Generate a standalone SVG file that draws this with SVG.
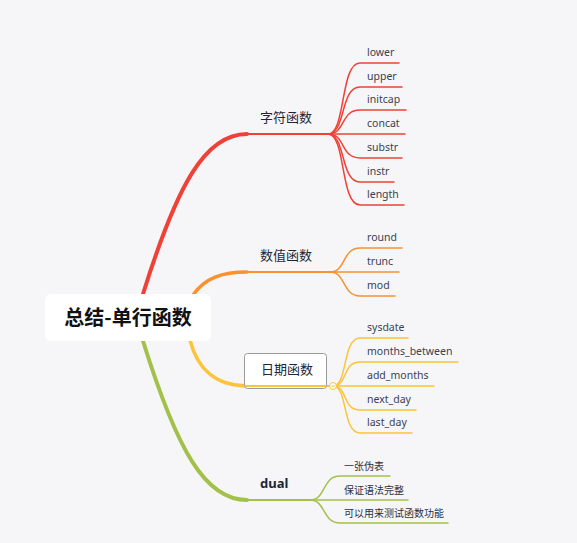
<svg xmlns="http://www.w3.org/2000/svg" width="577" height="543" viewBox="0 0 577 543">
<style>
.lbl{font-family:"Noto Sans","Noto Sans CJK SC",sans-serif;font-size:13px;fill:#1d2636}
.lf{font-family:"Noto Sans","Noto Sans CJK SC",sans-serif;font-size:10.5px;fill:#3a4150}
.cn{font-family:"Noto Sans CJK SC",sans-serif;font-size:10px;fill:#2a3140}
.c line,.c path{fill:none;stroke-linecap:round}
.r{stroke:#ef4136}.o{stroke:#f7922f}.y{stroke:#fdc43a}.g{stroke:#a3c14a}
.leaf{stroke-width:1.5}
</style>
<rect width="577" height="543" fill="#f6f6f9"/>
<g id="connectors" class="c">
  <path class="r" d="M143,294 C177,185 205,134 247,134" stroke-width="4"/>
  <path class="o" d="M193,295 C205,278 222,272 247,272" stroke-width="3.5"/>
  <path class="y" d="M190,340 C197,368 215,386 247,386" stroke-width="3.5"/>
  <path class="g" d="M143,341 C177,450 205,500 247,500" stroke-width="4"/>
  <line class="r" x1="247" y1="134" x2="328" y2="134" stroke-width="2"/>
  <line class="o" x1="247" y1="272" x2="330" y2="272" stroke-width="2"/>
  <line class="y" x1="247" y1="386" x2="330" y2="386" stroke-width="2"/>
  <line class="g" x1="247" y1="500" x2="310" y2="500" stroke-width="2"/>
  <g class="r leaf">
    <path d="M328,134 C346,134 340,63 360,63 H399"/>
    <path d="M328,134 C346,134 340,87 360,87 H402"/>
    <path d="M328,134 C346,134 340,110 360,110 H406"/>
    <path d="M328,134 H405"/>
    <path d="M328,134 C346,134 340,158 360,158 H402"/>
    <path d="M328,134 C346,134 340,182 360,182 H394"/>
    <path d="M328,134 C346,134 340,205 360,205 H404"/>
  </g>
  <g class="o leaf">
    <path d="M330,272 C346,272 342,248 360,248 H402"/>
    <path d="M330,272 H399"/>
    <path d="M330,272 C346,272 342,296 360,296 H395"/>
  </g>
  <g class="y leaf">
    <path d="M333,386 C348,386 342,338 360,338 H408"/>
    <path d="M333,386 C348,386 342,362 360,362 H458"/>
    <path d="M333,386 H434"/>
    <path d="M333,386 C348,386 342,410 360,410 H416"/>
    <path d="M333,386 C348,386 342,433 360,433 H412"/>
  </g>
  <g class="g leaf">
    <path d="M310,500 C326,500 322,476 340,476 H390"/>
    <path d="M310,500 H408"/>
    <path d="M310,500 C326,500 322,523 340,523 H448"/>
  </g>
</g>
<g id="root">
  <rect x="45" y="294" width="166" height="47" rx="6" fill="#ffffff"/>
  <text x="128" y="325" text-anchor="middle" font-family="'Noto Sans CJK SC',sans-serif" font-size="20" font-weight="bold" fill="#111">总结-单行函数</text>
</g>
<g id="n-char"><text class="lbl" x="260" y="122">字符函数</text></g>
<g id="n-num"><text class="lbl" x="260" y="260">数值函数</text></g>
<g id="n-date">
  <rect x="244.5" y="353.5" width="82" height="35" rx="3" fill="#ffffff" stroke="#9a9a9a" stroke-width="1"/>
  <line x1="245" y1="386" x2="326" y2="386" stroke="#fdc43a" stroke-width="2"/>
  <text class="lbl" x="261" y="374">日期函数</text>
  <circle cx="333" cy="386" r="3.5" fill="#ffffff" stroke="#fdc43a" stroke-width="1"/>
  <line x1="331" y1="386" x2="335" y2="386" stroke="#fdc43a" stroke-width="1"/>
</g>
<g id="n-dual"><text class="lbl" x="260" y="488" font-weight="bold">dual</text></g>
<g id="leaves-char">
  <text class="lf" x="367" y="56">lower</text>
  <text class="lf" x="367" y="80">upper</text>
  <text class="lf" x="367" y="103">initcap</text>
  <text class="lf" x="367" y="127">concat</text>
  <text class="lf" x="367" y="151">substr</text>
  <text class="lf" x="367" y="175">instr</text>
  <text class="lf" x="367" y="198">length</text>
</g>
<g id="leaves-num">
  <text class="lf" x="367" y="241">round</text>
  <text class="lf" x="367" y="265">trunc</text>
  <text class="lf" x="367" y="289">mod</text>
</g>
<g id="leaves-date">
  <text class="lf" x="367" y="331">sysdate</text>
  <text class="lf" x="367" y="355">months_between</text>
  <text class="lf" x="367" y="379">add_months</text>
  <text class="lf" x="367" y="403">next_day</text>
  <text class="lf" x="367" y="426">last_day</text>
</g>
<g id="leaves-dual">
  <text class="cn" x="344" y="470">一张伪表</text>
  <text class="cn" x="344" y="494">保证语法完整</text>
  <text class="cn" x="344" y="517">可以用来测试函数功能</text>
</g>
</svg>
